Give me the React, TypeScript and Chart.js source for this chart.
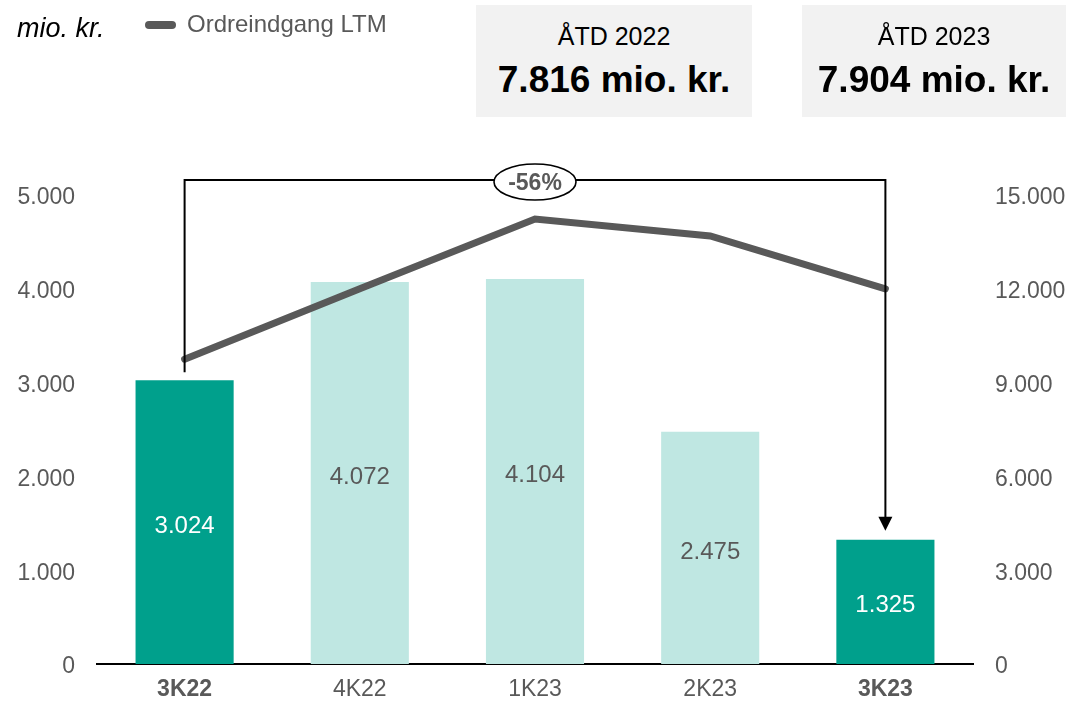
import React, { useEffect, useRef } from "react";
import { Chart, registerables } from "chart.js";

Chart.register(...registerables);

const categories = ["3K22", "4K22", "1K23", "2K23", "3K23"];
const orderValues = [3024, 4072, 4104, 2475, 1325];
const ltmValues = [9750, 12000, 14230, 13690, 12000];
const highlighted = [true, false, false, false, true];
const leftTicks = [0, 1000, 2000, 3000, 4000, 5000];
const rightTicks = [0, 3000, 6000, 9000, 12000, 15000];
const changeLabel = "-56%";
const unitLabel = "mio. kr.";
const legendLabel = "Ordreindgang LTM";
const boxTitles = ["ÅTD 2022", "ÅTD 2023"];
const boxValues = ["7.816 mio. kr.", "7.904 mio. kr."];

const FONT = "'Liberation Sans', Arial, Helvetica, sans-serif";
const DARK = "#00A08C";
const LIGHT = "#BFE7E2";
const GREY = "#595959";

const fmt = (v: number) => {
  const s = Math.round(v).toString();
  return s.replace(/\B(?=(\d{3})+(?!\d))/g, ".");
};

const barLabelPlugin = {
  id: "barLabels",
  afterDatasetsDraw(chart: any) {
    const ctx = chart.ctx;
    const meta = chart.getDatasetMeta(0);
    ctx.save();
    ctx.font = `24px ${FONT}`;
    ctx.textAlign = "center";
    ctx.textBaseline = "middle";
    meta.data.forEach((bar: any, i: number) => {
      const { x, y, base } = bar.getProps(["x", "y", "base"], true);
      ctx.fillStyle = highlighted[i] ? "#FFFFFF" : GREY;
      ctx.fillText(fmt(orderValues[i]), x, (y + base) / 2 + 4);
    });
    ctx.restore();
  },
};

const bracketPlugin = {
  id: "bracket",
  afterDraw(chart: any) {
    const ctx = chart.ctx;
    const xs = chart.scales.x;
    const ys = chart.scales.y;
    const y1 = chart.scales.y1;
    const n = categories.length - 1;
    const xL = xs.getPixelForValue(0);
    const xR = xs.getPixelForValue(n);
    const topY = ys.getPixelForValue(leftTicks[leftTicks.length - 1]) - 15;
    const leftBottom = y1.getPixelForValue(ltmValues[0]) + 13;
    const tipY = ys.getPixelForValue(orderValues[n]) - 9;
    ctx.save();
    ctx.strokeStyle = "#000";
    ctx.lineWidth = 2;
    ctx.beginPath();
    ctx.moveTo(xL, leftBottom);
    ctx.lineTo(xL, topY);
    ctx.lineTo(xR, topY);
    ctx.lineTo(xR, tipY - 13);
    ctx.stroke();
    ctx.fillStyle = "#000";
    ctx.beginPath();
    ctx.moveTo(xR - 7, tipY - 14);
    ctx.lineTo(xR + 7, tipY - 14);
    ctx.lineTo(xR, tipY);
    ctx.closePath();
    ctx.fill();
    const cx = (xL + xR) / 2;
    const cy = topY + 2;
    ctx.beginPath();
    ctx.ellipse(cx, cy, 41, 18, 0, 0, Math.PI * 2);
    ctx.fillStyle = "#fff";
    ctx.fill();
    ctx.lineWidth = 1.6;
    ctx.stroke();
    ctx.fillStyle = GREY;
    ctx.font = `bold 23px ${FONT}`;
    ctx.textAlign = "center";
    ctx.textBaseline = "middle";
    ctx.fillText(changeLabel, cx, cy + 2);
    ctx.restore();
  },
};

export default function App() {
  const ref = useRef<HTMLCanvasElement>(null);
  useEffect(() => {
    if (!ref.current) return;
    const chart = new Chart(ref.current, {
      type: "bar",
      data: {
        labels: categories,
        datasets: [
          {
            type: "bar",
            label: "Ordreindgang",
            data: orderValues,
            backgroundColor: highlighted.map((h) => (h ? DARK : LIGHT)),
            barPercentage: 0.56,
            categoryPercentage: 1,
            yAxisID: "y",
            order: 2,
          },
          {
            type: "line",
            label: legendLabel,
            data: ltmValues,
            borderColor: GREY,
            borderWidth: 7,
            pointRadius: 0,
            tension: 0,
            borderCapStyle: "round",
            borderJoinStyle: "miter",
            yAxisID: "y1",
            order: 1,
          } as any,
        ],
      },
      options: {
        responsive: false,
        animation: false,
        layout: { padding: { top: 195, left: 0, right: 0, bottom: 0 } },
        plugins: { legend: { display: false }, tooltip: { enabled: false } },
        scales: {
          x: {
            grid: { display: false, drawTicks: false },
            border: { display: true, color: "#000", width: 2 },
            ticks: {
              color: GREY,
              padding: 12,
              font: (c: any) => ({
                family: FONT,
                size: 23,
                weight: highlighted[c.index] ? "bold" : "normal",
              }),
            },
            afterFit: (s: any) => {
              s.height = 37;
            },
          },
          y: {
            position: "left",
            min: 0,
            max: 5000,
            grid: { display: false, drawTicks: false },
            border: { display: false },
            afterBuildTicks: (s: any) => {
              s.ticks = leftTicks.map((v) => ({ value: v }));
            },
            ticks: {
              color: GREY,
              padding: 22,
              labelOffset: 3,
              font: { family: FONT, size: 23 },
              callback: (v: any) => fmt(Number(v)),
            },
            afterFit: (s: any) => {
              s.width = 97;
            },
          },
          y1: {
            position: "right",
            min: 0,
            max: 15000,
            grid: { display: false, drawTicks: false },
            border: { display: false },
            afterBuildTicks: (s: any) => {
              s.ticks = rightTicks.map((v) => ({ value: v }));
            },
            ticks: {
              color: GREY,
              padding: 22,
              labelOffset: 3,
              font: { family: FONT, size: 23 },
              callback: (v: any) => fmt(Number(v)),
            },
            afterFit: (s: any) => {
              s.width = 93;
            },
          },
        },
      },
      plugins: [barLabelPlugin, bracketPlugin],
    });
    return () => chart.destroy();
  }, []);

  const boxStyle = (left: number, width: number): React.CSSProperties => ({
    position: "absolute",
    left,
    top: 5,
    width,
    height: 112,
    background: "#F2F2F2",
    textAlign: "center",
    fontFamily: FONT,
    color: "#000",
  });

  return (
    <div style={{ position: "fixed", left: 0, top: 0, width: 1066, height: 701, background: "#fff", overflow: "hidden" }}>
      <canvas ref={ref} width={1066} height={701} style={{ position: "absolute", left: 0, top: 0 }} />
      <div style={{ position: "absolute", left: 17, top: 13, fontFamily: FONT, fontStyle: "italic", fontSize: 27, color: "#000", lineHeight: "30px" }}>
        {unitLabel}
      </div>
      <div style={{ position: "absolute", left: 145, top: 21, width: 31, height: 8, borderRadius: 4, background: GREY }} />
      <div style={{ position: "absolute", left: 187, top: 10, fontFamily: FONT, fontSize: 24, color: GREY, lineHeight: "28px" }}>
        {legendLabel}
      </div>
      {[0, 1].map((i) => (
        <div key={i} style={boxStyle(i === 0 ? 476 : 802, i === 0 ? 276 : 264)}>
          <div style={{ position: "absolute", left: 0, right: 0, top: 16, fontSize: 25, lineHeight: "30px" }}>{boxTitles[i]}</div>
          <div style={{ position: "absolute", left: 0, right: 0, top: 54, fontSize: 37, fontWeight: "bold", lineHeight: "42px" }}>{boxValues[i]}</div>
        </div>
      ))}
    </div>
  );
}
